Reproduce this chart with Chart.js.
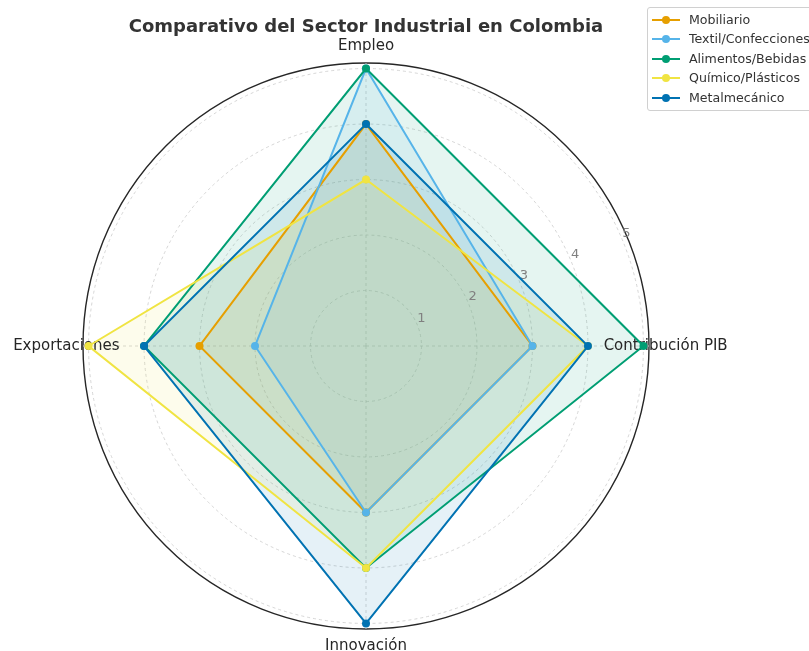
<!DOCTYPE html>
<html>
<head>
<meta charset="utf-8">
<script src="https://cdn.jsdelivr.net/npm/chart.js@4.4.0/dist/chart.umd.min.js"></script>
<style>
  body { margin: 0; width: 809px; height: 651px; overflow: hidden; background: #fff; font-family: "DejaVu Sans", sans-serif; }
  #wrap { position: relative; width: 809px; height: 651px; }
  #legend { position: absolute; left: 647px; top: 7px; width: 200px; height: 102px; border: 1px solid #d0d0d0; border-radius: 3px; background: rgba(255,255,255,0.85); }
  .row { position: absolute; left: 0; height: 20px; line-height: 20px; font-size: 12.6px; color: #333; white-space: nowrap; }
  .row .ln { position: absolute; left: 4px; top: 9px; width: 28px; height: 2px; }
  .row .dt { position: absolute; left: 14px; top: 6px; width: 8px; height: 8px; border-radius: 50%; }
  .row .tx { position: absolute; left: 41px; top: 0; }
</style>
</head>
<body>
<div id="wrap">
  <canvas id="myChart" width="809" height="651"></canvas>
  <div id="legend"></div>
</div>
<script>
// Categorias (ejes del radar) y series
const categorias = ['Empleo', 'Contribución PIB', 'Innovación', 'Exportaciones'];
const sectores = ['Mobiliario', 'Textil/Confecciones', 'Alimentos/Bebidas', 'Químico/Plásticos', 'Metalmecánico'];
const colores = ['#E69F00', '#56B4E9', '#009E73', '#F0E442', '#0072B2'];

const mobiliario = [4, 3, 3, 3];
const textil = [5, 3, 3, 2];
const alimentos = [5, 5, 4, 4];
const quimico = [3, 4, 4, 5];
const metalmecanico = [4, 4, 5, 4];

const tickLabels = [1, 2, 3, 4, 5];

const valores = [mobiliario, textil, alimentos, quimico, metalmecanico];

function hexToRgba(hex, a) {
  const n = parseInt(hex.slice(1), 16);
  return 'rgba(' + ((n >> 16) & 255) + ',' + ((n >> 8) & 255) + ',' + (n & 255) + ',' + a + ')';
}

const datasets = sectores.map((nombre, i) => ({
  label: nombre,
  data: valores[i],
  borderColor: colores[i],
  backgroundColor: hexToRgba(colores[i], 0.1),
  pointBackgroundColor: colores[i],
  pointBorderColor: colores[i],
  pointRadius: 4,
  pointBorderWidth: 0,
  borderWidth: 2,
  fill: true,
  order: sectores.length - i
}));

// Etiquetas de los ejes y de los ticks (estilo matplotlib)
const etiquetasPlugin = {
  id: 'etiquetas',
  beforeDatasetsDraw(chart) {
    const scale = chart.scales.r;
    const ctx = chart.ctx;
    ctx.save();
    ctx.font = '15px "DejaVu Sans"';
    ctx.fillStyle = '#262626';
    ctx.textAlign = 'center';
    ctx.textBaseline = 'middle';
    categorias.forEach((c, i) => {
      const p = scale.getPointPositionForValue(i, 5.4);
      ctx.fillText(c, p.x, p.y);
    });
    ctx.font = '13px "DejaVu Sans"';
    ctx.fillStyle = '#808080';
    ctx.textAlign = 'left';
    ctx.textBaseline = 'bottom';
    const ang = 22.5 * Math.PI / 180;
    tickLabels.forEach(v => {
      const d = scale.getDistanceFromCenterForValue(v);
      ctx.fillText(String(v), scale.xCenter + d * Math.cos(ang), scale.yCenter - d * Math.sin(ang));
    });
    ctx.restore();
  }
};

const ctx = document.getElementById('myChart');
new Chart(ctx, {
  type: 'radar',
  data: { labels: categorias, datasets: datasets },
  plugins: [etiquetasPlugin],
  options: {
    responsive: false,
    animation: false,
    layout: { padding: { left: 83, right: 160, top: 0, bottom: 22 } },
    plugins: {
      legend: { display: false },
      tooltip: { enabled: false },
      filler: { drawTime: 'beforeDatasetsDraw' },
      title: {
        display: true,
        text: 'Comparativo del Sector Industrial en Colombia',
        color: '#333',
        font: { family: 'DejaVu Sans', size: 18, weight: 'bold' },
        padding: { top: 17, bottom: 24.4 }
      }
    },
    elements: { line: { tension: 0 } },
    scales: {
      r: {
        min: 0,
        max: 5.1,
        afterBuildTicks: axis => {
          axis.ticks = [0, 1, 2, 3, 4, 5, 5.1].map(v => ({ value: v }));
        },
        ticks: { display: false },
        pointLabels: { display: false },
        angleLines: { color: '#cccccc', lineWidth: 0.8, borderDash: [3, 3] },
        grid: {
          circular: true,
          color: c => (c.tick && c.tick.value > 5 ? '#262626' : '#cccccc'),
          lineWidth: c => (c.tick && c.tick.value > 5 ? 1.4 : 0.8)
        },
        border: {
          dash: c => (c.tick && c.tick.value > 5 ? [] : [3, 3])
        }
      }
    }
  }
});

// Leyenda
const legend = document.getElementById('legend');
sectores.forEach((nombre, i) => {
  const row = document.createElement('div');
  row.className = 'row';
  row.style.top = (2 + i * 19.4) + 'px';
  row.innerHTML = '<span class="ln" style="background:' + colores[i] + '"></span>' +
    '<span class="dt" style="background:' + colores[i] + '"></span>' +
    '<span class="tx"></span>';
  row.querySelector('.tx').textContent = nombre;
  legend.appendChild(row);
});
</script>
</body>
</html>
